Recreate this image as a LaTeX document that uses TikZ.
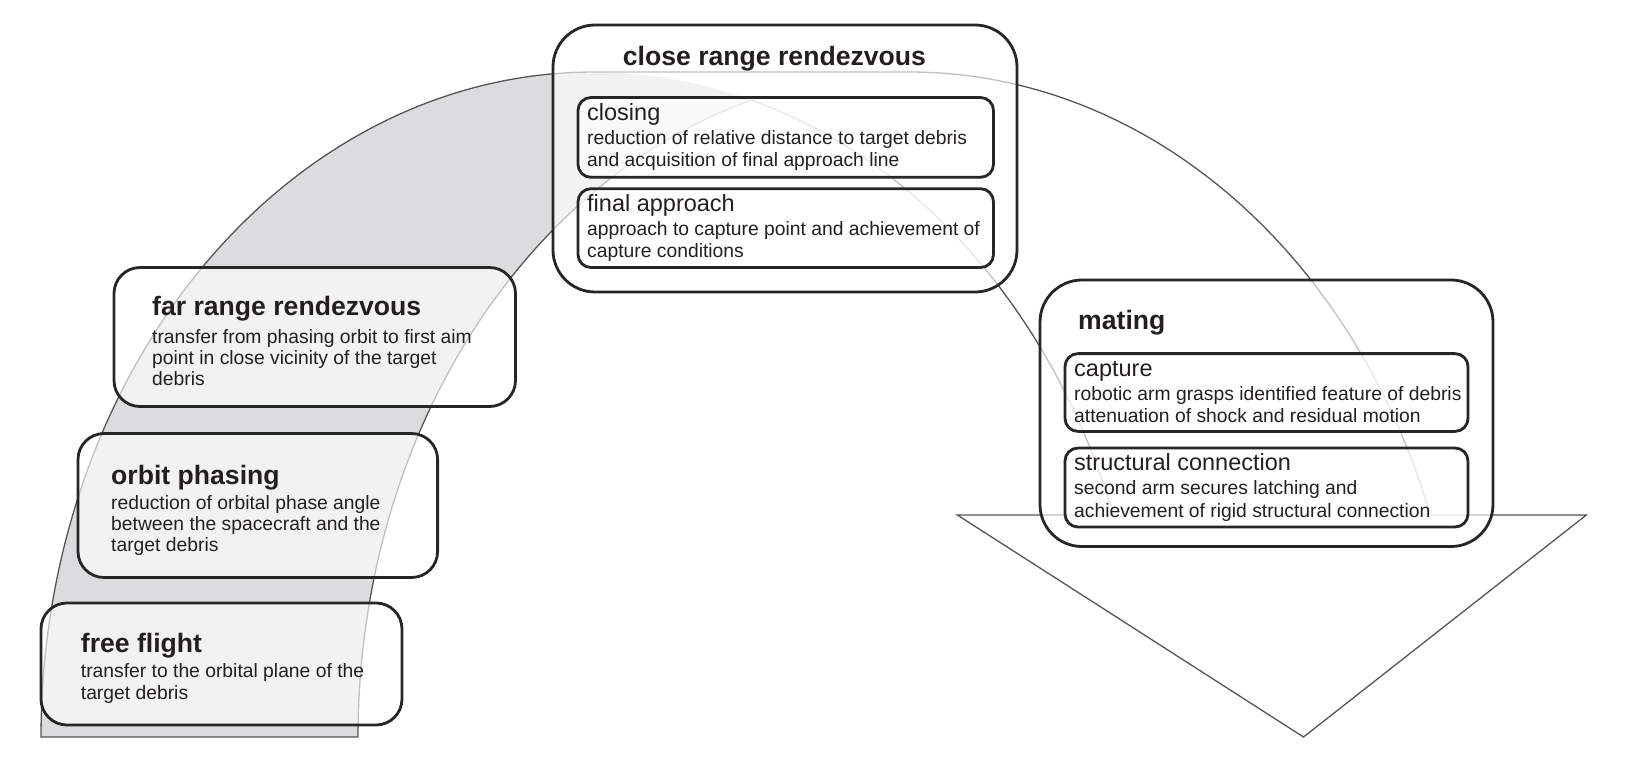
\documentclass[tikz,border=0pt]{standalone}
\usepackage{fontspec}
\setmainfont{Liberation Sans}
\definecolor{bandgray}{RGB}{220,220,222}
\definecolor{arcline}{RGB}{85,85,85}
\definecolor{boxline}{RGB}{38,38,38}
\definecolor{txt}{RGB}{35,31,32}
\tikzset{
  arcstroke/.style={draw=arcline, line width=1.3pt, line join=miter},
  phase/.style={draw=boxline, line width=2.8pt, fill=white, fill opacity=0.63, rounded corners=26pt, inner sep=0pt, outer sep=0pt},
  group/.style={draw=boxline, line width=2.8pt, fill=white, fill opacity=0.63, rounded corners=42pt, inner sep=0pt, outer sep=0pt},
  sub/.style={draw=boxline, line width=2.8pt, fill=white, fill opacity=0.63, rounded corners=13pt, inner sep=0pt, outer sep=0pt},
  ttl/.style={anchor=base west, inner sep=0pt, text=txt, font=\bfseries\fontsize{26.6}{30}\selectfont},
  subttl/.style={anchor=base west, inner sep=0pt, text=txt, font=\fontsize{23.5}{26}\selectfont},
  desc/.style={anchor=base west, inner sep=0pt, text=txt, font=\fontsize{19.3}{21}\selectfont},
}
\begin{document}
\begin{tikzpicture}[x=1pt,y=-1pt]
\useasboundingbox (0,0) rectangle (1626,764);
% gray left shaft (between E1 and E2)
\fill[bandgray] plot[domain=180:73.31,variable=\t,samples=150] ({593+552*cos(\t)},{737-665*sin(\t)})
  -- plot[domain=106.69:180,variable=\t,samples=150] ({910+552*cos(\t)},{737-665*sin(\t)}) -- cycle;
% white arrow part
\fill[white] plot[domain=19.5:90,variable=\t,samples=150] ({593+552*cos(\t)},{737-665*sin(\t)})
  -- plot[domain=90:19.5,variable=\t,samples=150] ({910+552*cos(\t)},{737-665*sin(\t)})
  -- (1586.33,515) -- (1303.5,737) -- (957.33,515) -- cycle;
% outline
\draw[arcstroke] plot[domain=106.69:180,variable=\t,samples=150] ({910+552*cos(\t)},{737-665*sin(\t)})
  -- plot[domain=180:90,variable=\t,samples=150] ({593+552*cos(\t)},{737-665*sin(\t)})
  -- plot[domain=90:19.5,variable=\t,samples=150] ({910+552*cos(\t)},{737-665*sin(\t)})
  -- (1586.33,515) -- (1303.5,737) -- (957.33,515) -- (1113.33,515)
  -- plot[domain=19.5:73.31,variable=\t,samples=150] ({593+552*cos(\t)},{737-665*sin(\t)});

% phase boxes (left)
\node[phase, minimum width=401.5pt, minimum height=139pt] (far) at (314.75,337) {};
\node[phase, minimum width=359.6pt, minimum height=144pt] (orb) at (257.8,505.5) {};
\node[phase, minimum width=361pt, minimum height=122pt] (free) at (221.5,664) {};
% group boxes
\node[group, minimum width=464pt, minimum height=267pt] (close) at (785,158.5) {};
\node[sub, minimum width=415.5pt, minimum height=79.8pt] (closing) at (785.75,137.4) {};
\node[sub, minimum width=415.5pt, minimum height=78.8pt] (final) at (785.75,228.1) {};
\node[group, minimum width=453pt, minimum height=266.5pt] (mate) at (1266.5,413.25) {};
\node[sub, minimum width=403pt, minimum height=77.8pt] (capt) at (1266.5,392.5) {};
\node[sub, minimum width=403pt, minimum height=79pt] (struct) at (1266.5,487.5) {};

% texts
\node[ttl] (farT) at (152,315) {far range rendezvous};
\node[desc] (far1) at (152,343) {transfer from phasing orbit to first aim};
\node[desc] (far2) at (152,364) {point in close vicinity of the target};
\node[desc] (far3) at (152,385) {debris};

\node[ttl] (orbT) at (111,484) {orbit phasing};
\node[desc] (orb1) at (111,509) {reduction of orbital phase angle};
\node[desc] (orb2) at (111,530) {between the spacecraft and the};
\node[desc] (orb3) at (111,551) {target debris};

\node[ttl] (freeT) at (80.7,652) {free flight};
\node[desc] (free1) at (80.7,677) {transfer to the orbital plane of the};
\node[desc] (free2) at (80.7,699) {target debris};

\node[ttl] (closeT) at (622.7,65) {close range rendezvous};
\node[subttl] (closingT) at (587,120) {closing};
\node[desc] (closing1) at (587,144) {reduction of relative distance to target debris};
\node[desc] (closing2) at (587,166.5) {and acquisition of final approach line};
\node[subttl] (finalT) at (587,211.2) {final approach};
\node[desc] (final1) at (587,235.2) {approach to capture point and achievement of};
\node[desc] (final2) at (587,257.7) {capture conditions};

\node[ttl] (mateT) at (1078,329) {mating};
\node[subttl] (captT) at (1074,376) {capture};
\node[desc] (capt1) at (1074,400) {robotic arm grasps identified feature of debris};
\node[desc] (capt2) at (1074,422.5) {attenuation of shock and residual motion};
\node[subttl] (structT) at (1074,470.5) {structural connection};
\node[desc] (struct1) at (1074,494.5) {second arm secures latching and};
\node[desc] (struct2) at (1074,517) {achievement of rigid structural connection};
\end{tikzpicture}
\end{document}
